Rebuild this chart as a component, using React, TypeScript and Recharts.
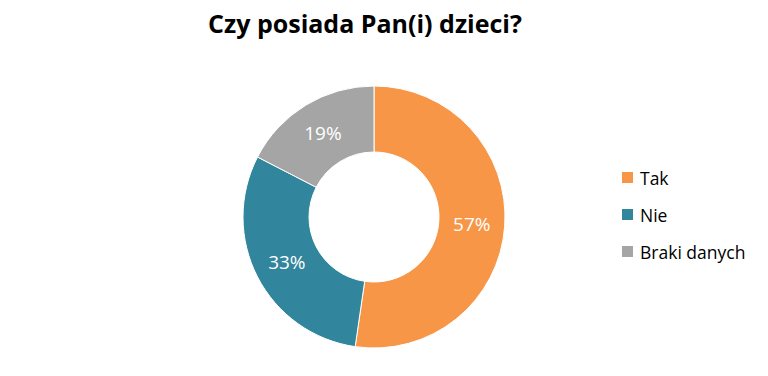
import React from "react"
import { PieChart, Pie, Cell, Legend } from "recharts"

const categories = ["Tak", "Nie", "Braki danych"]
const values = [57, 33, 19]
const colors = ["#F79646", "#31859C", "#A5A5A5"]

const data = categories.map((name, i) => ({ name, value: values[i] }))

const RADIAN = Math.PI / 180

function renderLabel(props: any) {
    const { cx, cy, midAngle, innerRadius, outerRadius, value } = props
    const r = (innerRadius + outerRadius) / 2
    const x = cx + r * Math.cos(-midAngle * RADIAN)
    const y = cy + r * Math.sin(-midAngle * RADIAN)
    return (
        <text
            x={x}
            y={y}
            fill="#ffffff"
            textAnchor="middle"
            dominantBaseline="central"
            fontSize={19}
            fontFamily="Open Sans"
        >
            {`${value}%`}
        </text>
    )
}

// legend drawn in category order (recharts reverses pie payload here)
function renderLegend() {
    return (
        <div>
            {categories.map((name, i) => (
                <div
                    key={name}
                    style={{ display: "flex", alignItems: "center", height: 37, fontFamily: "Open Sans", fontSize: 17.5, color: "#000" }}
                >
                    <span style={{ display: "inline-block", width: 11, height: 11, background: colors[i], marginRight: 7 }} />
                    {name}
                </div>
            ))}
        </div>
    )
}

export default function App() {
    return (
        <div style={{ position: "absolute", left: 0, top: 0, width: 768, height: 376, background: "#fff" }}>
            <div
                style={{
                    position: "absolute",
                    top: 6,
                    left: 0,
                    width: 730,
                    textAlign: "center",
                    fontFamily: "Open Sans",
                    fontWeight: 700,
                    fontSize: 25,
                    color: "#000",
                }}
            >
                Czy posiada Pan(i) dzieci?
            </div>
            <PieChart width={768} height={376}>
                <Pie
                    data={data}
                    dataKey="value"
                    nameKey="name"
                    cx={369}
                    cy={212}
                    innerRadius={65}
                    outerRadius={131}
                    startAngle={90}
                    endAngle={-270}
                    stroke="#ffffff"
                    strokeWidth={1}
                    label={renderLabel}
                    labelLine={false}
                    isAnimationActive={false}
                >
                    {data.map((d, i) => (
                        <Cell key={d.name} fill={colors[i]} />
                    ))}
                </Pie>
                <Legend
                    layout="vertical"
                    content={renderLegend}
                    wrapperStyle={{ left: 622, top: 159, width: 146 }}
                />
            </PieChart>
        </div>
    )
}
